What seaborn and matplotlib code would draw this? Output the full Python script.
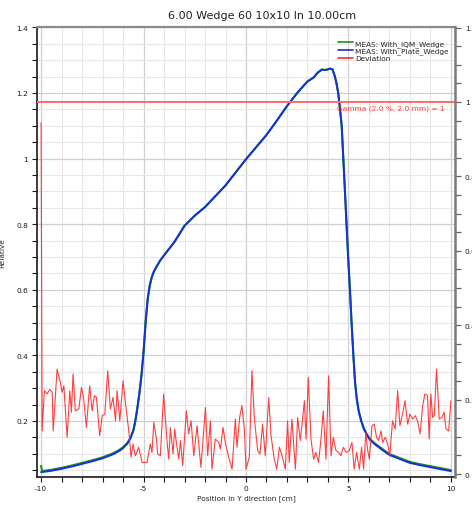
import numpy as np
import pandas as pd
import matplotlib
matplotlib.use("Agg")
import matplotlib.pyplot as plt
from matplotlib.ticker import MultipleLocator, FuncFormatter
from matplotlib.lines import Line2D
import seaborn as sns

# Measured profile (position in cm, relative dose)
prof_x = [-10.0, -9.95, -9.5, -9.0, -8.5, -8.0, -7.5, -7.0, -6.5, -6.2,
          -6.0, -5.8, -5.65, -5.5, -5.4, -5.3, -5.2, -5.1, -5.0, -4.9,
          -4.8, -4.7, -4.6, -4.5, -4.35, -4.2, -4.0, -3.8, -3.5, -3.0,
          -2.5, -2.0, -1.5, -1.0, -0.5, 0.0, 0.5, 1.0, 1.5, 2.0,
          2.5, 3.0, 3.3, 3.5, 3.7, 3.9, 4.1, 4.22, 4.34, 4.42,
          4.50, 4.58, 4.67, 4.75, 4.83, 4.91, 4.99, 5.08, 5.16, 5.24,
          5.32, 5.40, 5.50, 5.62, 5.75, 5.90, 6.05, 6.3, 6.6, 7.0,
          7.5, 8.0, 8.5, 9.0, 9.5, 10.0]
plate_wedge = [0.044, 0.044, 0.048, 0.054, 0.061, 0.069, 0.077, 0.086, 0.098, 0.108,
               0.117, 0.130, 0.146, 0.170, 0.200, 0.240, 0.285, 0.340, 0.410, 0.500,
               0.570, 0.612, 0.638, 0.655, 0.672, 0.688, 0.705, 0.721, 0.745, 0.795,
               0.826, 0.852, 0.885, 0.918, 0.958, 0.998, 1.035, 1.072, 1.115, 1.160,
               1.200, 1.235, 1.247, 1.262, 1.271, 1.270, 1.274, 1.272, 1.250, 1.228,
               1.200, 1.155, 1.100, 1.000, 0.898, 0.795, 0.694, 0.590, 0.490, 0.400,
               0.320, 0.270, 0.230, 0.200, 0.176, 0.157, 0.142, 0.128, 0.114, 0.096,
               0.084, 0.072, 0.065, 0.059, 0.053, 0.047]
iqm_wedge = [0.063, 0.047, 0.051, 0.057, 0.064, 0.072, 0.080, 0.089, 0.101, 0.111,
             0.120, 0.132, 0.147, 0.171, 0.200, 0.240, 0.285, 0.340, 0.410, 0.500,
             0.570, 0.612, 0.638, 0.655, 0.672, 0.688, 0.705, 0.721, 0.745, 0.795,
             0.826, 0.852, 0.885, 0.918, 0.958, 0.998, 1.035, 1.072, 1.115, 1.160,
             1.200, 1.235, 1.247, 1.262, 1.271, 1.270, 1.274, 1.272, 1.250, 1.228,
             1.200, 1.155, 1.100, 1.000, 0.898, 0.795, 0.694, 0.590, 0.490, 0.400,
             0.320, 0.270, 0.230, 0.201, 0.178, 0.159, 0.145, 0.131, 0.117, 0.099,
             0.087, 0.075, 0.068, 0.062, 0.056, 0.050]

# Gamma deviation along the profile
dev_x = [-10.0, -9.95, -9.84, -9.71, -9.58, -9.46, -9.41, -9.22, -9.06, -8.98,
         -8.89, -8.73, -8.60, -8.52, -8.44, -8.33, -8.16, -8.03, -7.92, -7.79,
         -7.63, -7.51, -7.40, -7.30, -7.14, -7.02, -6.89, -6.75, -6.62, -6.49,
         -6.37, -6.29, -6.16, -6.00, -5.89, -5.72, -5.61, -5.51, -5.40, -5.24,
         -5.07, -4.83, -4.67, -4.59, -4.50, -4.37, -4.31, -4.18, -4.02, -3.85,
         -3.77, -3.69, -3.56, -3.48, -3.40, -3.28, -3.20, -3.09, -2.91, -2.80,
         -2.68, -2.55, -2.39, -2.20, -1.98, -1.87, -1.74, -1.66, -1.50, -1.33,
         -1.25, -1.12, -1.01, -0.89, -0.68, -0.52, -0.44, -0.31, -0.20, -0.08,
         0.00, 0.16, 0.29, 0.41, 0.57, 0.68, 0.81, 0.94, 1.11, 1.22,
         1.38, 1.50, 1.63, 1.76, 1.92, 2.03, 2.11, 2.24, 2.41, 2.52,
         2.65, 2.85, 2.93, 3.04, 3.17, 3.30, 3.41, 3.54, 3.66, 3.77,
         3.90, 4.03, 4.15, 4.26, 4.39, 4.52, 4.63, 4.75, 4.88, 5.04,
         5.17, 5.28, 5.40, 5.53, 5.64, 5.74, 5.85, 5.93, 6.02, 6.15,
         6.26, 6.37, 6.47, 6.59, 6.67, 6.80, 6.91, 7.02, 7.15, 7.28,
         7.40, 7.51, 7.64, 7.76, 7.89, 8.00, 8.13, 8.26, 8.37, 8.50,
         8.62, 8.73, 8.86, 8.94, 9.02, 9.11, 9.19, 9.30, 9.43, 9.56,
         9.67, 9.76, 9.89, 10.0]
deviation = [0.944, 0.116, 0.224, 0.215, 0.227, 0.220, 0.116, 0.282, 0.246, 0.220,
             0.237, 0.099, 0.224, 0.166, 0.269, 0.170, 0.175, 0.233, 0.202, 0.125,
             0.237, 0.170, 0.211, 0.206, 0.103, 0.157, 0.161, 0.278, 0.175, 0.206,
             0.143, 0.224, 0.143, 0.251, 0.193, 0.116, 0.045, 0.081, 0.049, 0.072,
             0.031, 0.031, 0.081, 0.058, 0.139, 0.094, 0.054, 0.049, 0.215, 0.085,
             0.040, 0.125, 0.054, 0.121, 0.085, 0.040, 0.090, 0.022, 0.170, 0.108,
             0.143, 0.049, 0.130, 0.018, 0.179, 0.049, 0.143, 0.013, 0.094, 0.085,
             0.067, 0.125, 0.085, 0.054, 0.013, 0.148, 0.072, 0.152, 0.184, 0.121,
             0.013, 0.045, 0.278, 0.148, 0.063, 0.054, 0.134, 0.049, 0.206, 0.103,
             0.040, 0.013, 0.072, 0.049, 0.013, 0.143, 0.031, 0.148, 0.013, 0.152,
             0.090, 0.197, 0.094, 0.260, 0.094, 0.040, 0.058, 0.031, 0.094, 0.170,
             0.040, 0.264, 0.049, 0.099, 0.063, 0.058, 0.049, 0.072, 0.058, 0.063,
             0.085, 0.013, 0.058, 0.013, 0.072, 0.013, 0.112, 0.067, 0.040, 0.130,
             0.134, 0.099, 0.090, 0.116, 0.085, 0.099, 0.081, 0.049, 0.143, 0.121,
             0.224, 0.130, 0.161, 0.197, 0.134, 0.161, 0.148, 0.157, 0.143, 0.108,
             0.184, 0.215, 0.211, 0.094, 0.215, 0.152, 0.157, 0.282, 0.148, 0.152,
             0.166, 0.121, 0.116, 0.197]

gamma_limit = 1.0
gamma_text = "Gamma (2.0 %, 2.0 mm) = 1"
title = "6.00 Wedge 60 10x10 In 10.00cm"
series_names = ["MEAS: With_IQM_Wedge", "MEAS: With_Plate_Wedge", "Deviation"]

GREEN = "#1f8f1f"
BLUE = "#1432d8"
RED = "#ff2a2a"

sns.set_theme(style="white")
plt.rcParams["font.family"] = ["DejaVu Sans"]

W, H = 472, 506
fig = plt.figure(figsize=(W / 100, H / 100), dpi=100)
ax = fig.add_axes([37 / W, 1 - 478 / H, (455 - 37) / W, (478 - 28) / H])
ax2 = ax.twinx()

prof = pd.DataFrame({"x": prof_x, "iqm": iqm_wedge, "plate": plate_wedge})
dev = pd.DataFrame({"x": dev_x, "dev": deviation})

sns.lineplot(data=prof, x="x", y="iqm", ax=ax, color=GREEN, lw=1.5,
             estimator=None, sort=False, zorder=3)
sns.lineplot(data=prof, x="x", y="plate", ax=ax, color=BLUE, lw=1.4,
             estimator=None, sort=False, zorder=4)
sns.lineplot(data=dev, x="x", y="dev", ax=ax2, color=RED, lw=0.8, alpha=0.9,
             estimator=None, sort=False, zorder=3)
ax2.axhline(gamma_limit, color="#ff6b6b", lw=1.4, zorder=2)
ax2.text(9.7, gamma_limit - 0.008, gamma_text, color="#ff3b3b", fontsize=5.3,
         ha="right", va="top")

ax.set_xlim(-10.2, 10.2)
ax.set_ylim(0.029, 1.401)
ax2.set_ylim(-0.008, 1.2016)

ax.xaxis.set_major_locator(MultipleLocator(5))
ax.xaxis.set_minor_locator(MultipleLocator(1))
ax.yaxis.set_major_locator(MultipleLocator(0.2))
ax.yaxis.set_minor_locator(MultipleLocator(0.05))
ax2.yaxis.set_major_locator(MultipleLocator(0.2))
ax2.yaxis.set_minor_locator(MultipleLocator(0.05))
fmt = FuncFormatter(lambda v, p: f"{v:g}" if abs(v) > 1e-9 else "0")
ax.xaxis.set_major_formatter(fmt)
ax.yaxis.set_major_formatter(fmt)
ax2.yaxis.set_major_formatter(fmt)

ax.grid(which="minor", color="#e6e6e6", lw=0.8)
ax.grid(which="major", color="#cfcfcf", lw=0.9)
ax.set_axisbelow(True)

for a in (ax, ax2):
    a.tick_params(which="both", direction="out", labelsize=5.3, colors="#1a1a1a",
                  length=3.5, width=0.8)
ax.tick_params(axis="y", which="both", left=True, pad=3)
ax.tick_params(axis="x", which="both", bottom=True, pad=2.5)
ax2.tick_params(axis="y", which="both", right=True, length=4, width=0.9,
                color="#666666", pad=3)

for s in ("left", "bottom"):
    ax.spines[s].set_color("#1a1a1a")
    ax.spines[s].set_linewidth(1.2)
ax.spines["top"].set_color("#8a8a8a")
ax.spines["top"].set_linewidth(1.6)
ax.spines["right"].set_visible(False)
ax2.spines["right"].set_color("#7a7a7a")
ax2.spines["right"].set_linewidth(1.8)
for s in ("left", "bottom", "top"):
    ax2.spines[s].set_visible(False)

ax.set_xlabel("Position in Y direction [cm]", fontsize=5.3, labelpad=2)
ax.set_ylabel("Relative", fontsize=5.3, labelpad=8)
ax2.set_ylabel("")

handles = [Line2D([], [], color=c, lw=1.2) for c in (GREEN, BLUE, RED)]
ax2.legend(handles, series_names, loc="upper left", bbox_to_anchor=(0.72, 0.972),
           frameon=False, fontsize=5.3, handlelength=2.0, handletextpad=0.35,
           labelspacing=0.12, borderpad=0, borderaxespad=0)

fig.text(262 / W, 1 - 16 / H, title, fontsize=8, ha="center", va="center",
         color="#222222")

fig.savefig("out.png", dpi=100, facecolor="white")
